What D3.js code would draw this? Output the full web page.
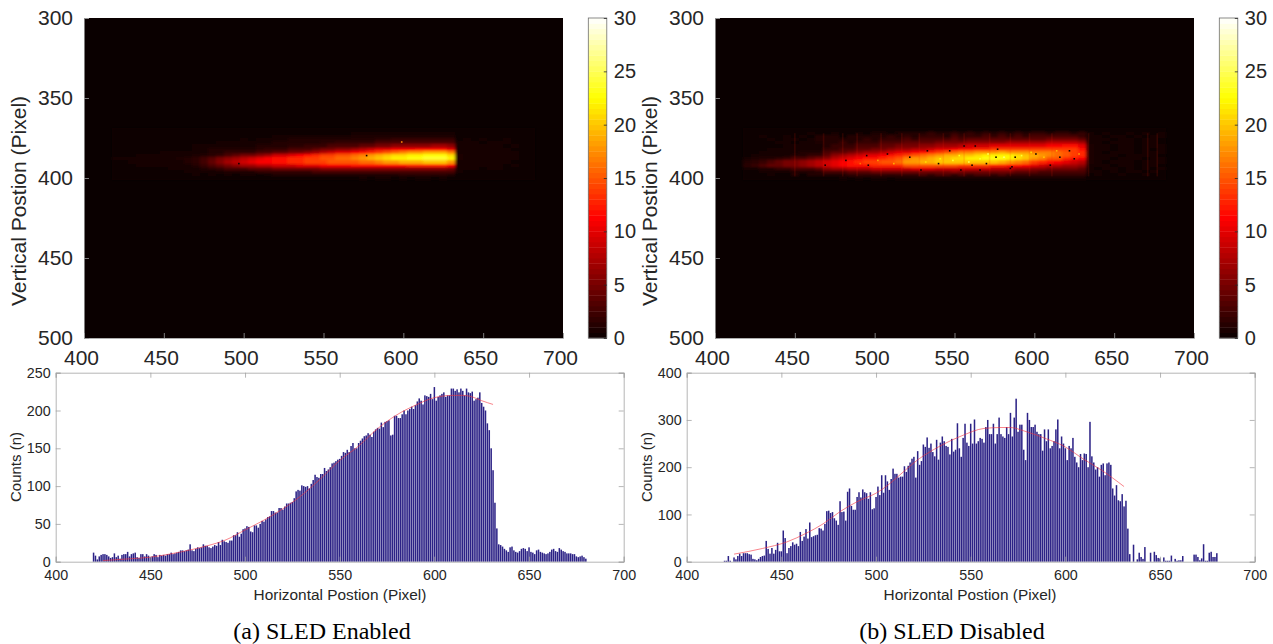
<!DOCTYPE html>
<html>
<head>
<meta charset="utf-8">
<script src="https://d3js.org/d3.v7.min.js"></script>
<style>
  html, body { margin: 0; padding: 0; background: #fff; }
  svg { display: block; }
  text { font-family: "Liberation Sans", sans-serif; fill: #262626; }
</style>
</head>
<body>
<div id="chart"></div>
<script>
// histogram bins, one value per pixel column from 420 to 680
var firstBin = 420;
var countsA = [
  12,8,3,7,9,10,10,9,7,5,
  6,11,6,8,4,9,10,10,13,7,
  10,11,12,6,5,10,10,7,10,8,
  6,7,10,9,6,9,8,9,8,10,
  10,12,10,11,12,13,15,15,14,15,
  16,23,15,14,17,19,18,19,23,21,
  21,19,18,20,22,21,26,22,29,27,
  26,25,28,28,35,35,39,33,37,43,
  44,47,46,40,39,48,48,45,50,54,
  53,56,59,60,67,67,65,65,71,71,
  69,73,77,77,78,79,84,93,95,94,
  101,100,99,100,97,103,108,115,112,111,
  116,116,124,120,122,125,130,131,133,135,
  136,140,145,144,148,145,153,157,150,150,
  157,160,163,166,167,170,168,165,172,175,
  177,176,184,178,185,186,187,167,168,193,
  193,190,190,195,200,195,200,202,205,202,
  207,212,216,213,208,220,219,218,222,215,
  231,213,218,220,222,224,218,220,220,229,
  229,226,228,224,229,226,220,229,224,223,
  225,213,215,217,224,210,205,200,183,174,
  150,121,78,44,23,22,20,17,15,13,
  19,20,15,13,12,14,17,18,17,14,
  19,13,12,10,15,16,13,12,11,10,
  11,13,16,17,14,13,18,16,14,13,
  11,11,11,10,10,7,6,7,8,6,
  4];
var countsB = [
  2,2,12,2,0,9,5,12,17,12,
  18,18,18,16,15,6,5,3,6,10,
  12,13,44,27,17,29,17,25,40,22,
  22,66,50,18,29,33,41,36,38,33,
  63,44,53,69,49,83,52,54,56,57,
  71,70,66,80,107,108,103,105,92,87,
  78,128,105,106,87,148,155,118,110,110,
  137,147,136,153,147,145,133,147,111,113,
  137,159,141,183,146,183,170,152,175,197,
  186,186,178,180,180,202,190,203,210,218,
  222,178,234,205,213,248,243,263,241,250,
  232,223,258,216,252,265,255,245,243,227,
  260,233,237,293,240,222,262,292,252,245,
  292,250,301,250,255,262,260,252,285,300,
  270,270,292,250,270,305,270,265,262,285,
  270,315,265,305,345,275,290,290,237,215,
  315,300,285,285,290,275,270,270,235,280,
  255,280,240,245,255,280,301,240,265,250,
  240,215,245,240,262,222,210,200,228,215,
  229,228,200,296,223,210,195,200,180,205,
  208,183,208,210,205,155,140,162,130,128,
  143,117,129,70,16,0,36,0,5,19,
  10,6,31,0,0,19,0,21,14,8,
  7,0,9,2,2,2,13,0,6,2,
  3,3,12,0,0,0,0,0,15,15,
  10,3,7,37,2,2,19,21,10,10,
  18];

// red fit curves: [pixel, counts]
var fitA = [[425,1.5],[440,4],[450,6],[460,10],[470,15],[480,21],[490,29],[500,42],[510,55],[520,70],[530,88],[540,110],[550,134],[560,153],[570,176],[580,194],[590,207],[600,217],[610,220],[615,220],[620,218],[625,213],[631,208]];
var fitB = [[425,16],[440,28],[453,42],[463,60],[472,80],[481,106],[490,127],[500,145],[525,224],[545,266],[557,282],[566,284],[571,284],[578,277],[590,260],[599,245],[610,216],[619,194],[631,159]];

// camera images: intensity read per 5 pixel column and per 2 pixel row
var imageCols = d3.range(420, 681, 5);
var imageRows = d3.range(370, 401, 2);
var imageA = [
  [0,0,0,0,0,0,0,0,0,0, 0,0,0,0,0,0,0,0,0,0, 0,0,0,0,0,0,0,0,0,0, 0,0,0,0,0,0,0,0,0,0, 0,0,0, 0,0,0,0,0,0,0,0,0,0],
  [0,0,.3,0,0,0,.3,0,0,.3, 0,.3,0,0,.3,0,.3,0,0,.3, .3,0,.3,.3,0,.3,.3,0,.3,.3, .5,.5,.5,.5,.5,.5,.5,.5,.5,.5, .5,.5,.5, 0,.3,0,0,.3,0,0,.3,0,0],
  [0,.3,0,.3,0,.3,0,.3,.3,0, .3,0,.3,.3,0,.3,0,.3,.3,0, .5,.5,.5,.5,.5,.5,.5,.5,.5,.5, .8,.8,.8,.8,.8,.8,.8,.8,.8,.8, .8,.8,.8, .3,0,.3,0,.3,.3,0,0,.3,0],
  [.3,0,.3,0,.3,0,.3,0,.3,.3, 0,.3,.3,0,.3,.3,.5,0,.5,.5, .5,.5,1,1,1,1,1,1,1,1, 1,1,1,1.5,1.5,2,2,2,2,2, 2,2,2, .3,.4,0,.4,.3,0,.4,.3,0,0],
  [0,.3,0,.3,.3,0,.3,.3,0,.3, .3,.3,0,.5,.5,.5,.5,.5,.5,.5, 1,1,1,1,1,1,1.5,1.5,2,2, 2,2,2,3,3,3,3,3,3,3, 3,3,3, .4,.5,.4,0,.4,.5,.4,0,.3,0],
  [.3,0,.3,.3,0,.3,.3,.3,.3,.3, .5,.5,.5,.5,.5,.5,.5,.5,1,1, 1,1,1.5,1.5,2,2,2,3,3,3, 3,4,4,5,5,6,6,6,6,6, 7,7,6, .5,.5,.4,.5,.5,.4,0,.4,.3,0],
  [0,.3,.3,0,.3,.3,.3,.3,.3,.3, .5,.5,1,1,1,1,1,1,1.5,2, 2,2,3,3,3,4,5,5,6,6, 7,8,9,10,10,11,11,11,12,12, 12,12,10, .5,.5,.5,.5,.5,.5,.4,0,.3,.3],
  [.3,.3,0,.3,.3,.3,.4,.4,.4,.4, .4,.6,1,1,2,2,2,2,3,3, 4,4,5,5,6,7,8,9,10,10, 11,12,13,14,15,16,17,18,18,19, 19,19,17, .6,.5,.5,.5,.5,.5,.5,.4,0,.3],
  [.3,.3,.3,.4,.4,.4,.4,.4,.5,.5, .8,1,1.5,2,3,4,5,5,6,7, 9,9,10,11,12,13,14,14,15,15, 16,17,18,19,20,21,21,22,22,23, 23,23,21, .8,.5,.5,.5,.5,.5,.5,.4,.3,0],
  [.5,.5,.5,.5,.5,.5,.6,.7,.8,1, 1.5,2.5,3.5,5,6,7,8,9,10,11, 12,12,13,13,14,14,15,15,16,16, 17,18,19,20,21,22,22,23,23,24, 24,24,22, .8,.5,.5,.5,.5,.5,.5,.4,0,.3],
  [.3,.3,.4,.4,.4,.5,.5,.6,.7,1, 1.5,2.5,4,5.5,7,8,9,10,11,11, 12,12,13,13,14,14,14,15,15,15, 15,16,16,17,18,18,19,19,19,20, 20,20,18, .6,.5,.5,.5,.5,.5,.4,0,.3,.3],
  [0,.3,0,.4,.4,.4,.4,.5,.5,.5, 1,2,3,4,5,6,7,7,8,8, 9,9,9,10,10,10,11,11,11,11, 12,12,12,12,12,12,12,13,13,13, 13,13,11, .5,.5,.4,.5,.4,.4,0,.4,.3,0],
  [.3,0,.3,0,.3,.3,0,.4,.4,.5, .7,1,1.5,2,3,3,3,4,4,4, 5,5,5,5,5,5,6,6,6,6, 6,6,6,6,6,6,6,6,6,6, 6,6,5, .4,.4,.4,0,.4,.4,.3,0,.3,0],
  [0,.3,0,.3,0,.3,.3,0,.3,.4, .4,.4,.6,.8,1,1,1,1,2,2, 2,2,2,2,2,3,3,3,3,3, 3,3,3,3,3,3,3,3,3,3, 3,3,3, .4,0,.3,.3,0,.3,0,.3,0,0],
  [0,0,0,.3,0,0,0,.3,0,0, .4,0,.5,0,.5,0,.5,.5,0,.5, 1,1,1,1,1,1,1,1,1,1, 1,1,1,1,1,1,1.5,1.5,1.5,1.5, 1.5,1.5,1, 0,.3,0,0,.3,0,0,0,.3,0],
  [0,0,0,0,0,0,0,0,0,0, 0,0,.3,0,0,.3,0,.3,0,.3, .3,.3,0,.3,.3,.3,.3,0,.3,.3, .3,.5,.3,.5,.5,.3,.5,.3,.5,.5, .3,.5,.3, 0,0,0,0,0,0,0,0,0,0]
];
var imageB = [
  [0,0,0,0,0,0,0,0,0,0, 0,0,0,0,0,0,0,0,0,0, 0,0,.3,0,0,.3,0,0,.3,0, .3,0,.3,0,.3,0,.3,0,.3,0, .3,.3,0, 0,0,0,0,0,0,0,0,0,0],
  [0,0,0,0,0,0,0,0,.4,0, 0,.5,0,0,.5,0,.8,.8,0,1, 1,1,1,2,1,1,2,1,2,1, 2,1,2,1,2,1,2,2,1,2, 2,1,2, .4,0,.4,0,0,.4,0,.4,0,.4],
  [0,0,.5,0,0,.5,0,.5,0,1, 1,1,0,1,1,1,1,1,2,1, 2,1,2,2,2,1,3,2,2,2, 3,2,3,2,3,2,3,3,3,3, 3,3,2, .5,.5,0,.5,.5,0,.5,0,.5,.5],
  [0,0,0,.5,0,.5,.5,0,.5,1, 1,1,1,1,1,2,1,2,2,2, 3,2,3,3,3,3,4,3,4,4, 4,4,4,4,4,4,4,4,5,5, 5,5,4, .6,.5,.5,0,.5,.5,0,.5,.5,0],
  [0,0,0,0,.5,.5,0,.6,.6,.8, 1,1,2,1,2,2,2,3,3,3, 4,4,4,4,5,5,5,5,6,6, 6,6,6,7,7,7,7,7,8,8, 8,8,7, .7,.5,0,.5,.5,.5,0,.5,.5,0],
  [0,0,.3,0,.3,.4,.4,.5,.5,.6, 1,2,2,2,3,3,3,4,4,5, 5,5,6,6,7,7,7,8,9,9, 9,10,10,10,10,10,10,10,11,11, 12,12,10, .8,.5,.5,0,.5,.5,0,.5,.5,.5],
  [0,.3,0,.4,.4,.5,.5,.5,.7,.7, 2,2,3,3,4,4,5,5,6,7, 7,8,8,9,10,10,11,12,12,13, 13,14,14,14,14,14,14,14,14,14, 14,14,12, .8,.5,.5,0,.5,.5,0,.5,0,.5],
  [0,0,.4,.4,.5,.5,.5,1,1,1, 3,4,4,5,6,7,7,8,9,10, 10,11,12,13,14,15,16,17,17,18, 18,18,19,18,18,18,17,17,17,16, 15,14,13, .8,.5,0,.5,.5,.5,0,.5,.5,.5],
  [0,.5,.5,.5,.5,.6,1,1,2,2, 4,6,7,8,9,10,10,11,12,13, 14,15,16,17,18,19,19,20,20,21, 22,22,22,22,21,20,19,18,17,16, 15,14,13, .8,.5,.5,.5,0,.5,.5,.5,.5,0],
  [.6,.8,1,1,1.5,2,3,3,4,5, 6,8,9,10,11,12,12,13,14,15, 17,18,18,19,20,20,21,21,22,22, 23,23,23,22,21,20,18,17,15,15, 13,12,11, .8,.5,.5,0,.5,.5,.5,0,.5,.5],
  [1,1.5,2,3,4,5,5,6,7,8, 9,10,11,12,13,14,14,15,15,16, 18,18,19,19,20,20,20,20,20,20, 20,20,19,18,17,16,14,13,12,11, 10,9,8, .8,.5,0,.5,.5,.5,0,.5,.5,.5],
  [1.5,2,3,4,4,5,5,6,7,8, 9,10,11,12,12,12,13,13,13,13, 15,15,15,15,15,15,15,14,14,14, 14,13,13,12,12,11,10,9,8,8, 7,7,6, .7,.5,.5,0,.5,.5,0,.5,.5,0],
  [.5,.5,1,1,2,2,3,3,3,4, 6,7,7,8,8,8,9,9,9,9, 9,10,10,10,9,9,9,9,9,9, 9,8,8,8,7,7,6,6,5,5, 5,5,4, .5,0,.5,.5,0,.5,0,.5,0,.5],
  [0,0,.5,.5,.5,.5,1,1,1,1.5, 3,3,3,4,4,4,5,5,5,5, 5,5,5,5,5,5,6,5,5,5, 5,5,5,5,4,4,4,3,3,3, 3,3,3, .5,.5,0,.5,0,.5,.5,0,.5,0],
  [0,0,0,.5,0,0,1,0,1,1, 1,1,1,2,2,2,2,2,2,2, 2,2,3,2,3,3,2,3,2,3, 3,2,3,2,2,2,2,2,2,2, 2,2,2, 0,.4,0,0,.4,0,0,.4,0,0],
  [0,0,0,0,0,0,0,0,0,0, .3,0,.5,0,.5,0,.5,.5,0,.5, .5,.5,.5,.5,.5,.5,.5,.5,.5,.5, .5,.5,.5,.5,.5,.5,.5,.5,.5,.5, .5,.5,.5, 0,0,0,0,0,0,0,0,0,0]
];

// single odd pixels and bright columns seen in the images: [pixel, row] or [pixel, row, value]
var deadPixelsA = [[577,386],[497,391]];
var hotPixelsA = [[599,377.5,17]];
var deadPixelsB = [[469,392],[482,389],[496,392],[495,386],[522,387],[540,391],[547,383],[563,380],[586,393],[601,385],[622,383],[556,380],[561,392],[577,382],[576,387],[588,387],[616,387],[625,388],[514,372],[554,395],[529,395],[566,395],[585,394],[508,385],[533,383],[570,391],[610,392]];
var hotPixelsB = [[532,390,21],[541,388,22],[549,389,24],[553,386,23],[559,390,25],[566,388,24],[571,385,25],[581,387,26],[592,386,24],[598,384,21],[606,387,20],[614,383,19],[628,385,18],[512,391,19],[502,389,18],[491,391,16]];
var streaksA = [];
var streaksB = [450,468,480,489,504,517,528,543,556,572,585,597,611,634,671,677];

// tick labels
var imageXTicks = [400,450,500,550,600,650,700];
var imageYTicks = [300,350,400,450,500];
var colorTicks = [0,5,10,15,20,25,30];
var histXTicks = [400,450,500,550,600,650,700];
var histYTicksA = [0,50,100,150,200,250];
var histYTicksB = [0,100,200,300,400];

var width = 1273, height = 644;
var svg = d3.select("#chart").append("svg")
    .attr("width", width)
    .attr("height", height);

// same stops as matlab's hot map
var hot = d3.scaleLinear()
    .domain([0, 11.25, 22.5, 30])
    .range(["#0a0000", "#ff0000", "#ffff00", "#ffffff"])
    .clamp(true);

svg.append("defs").append("filter")
    .attr("id", "soft")
    .attr("filterUnits", "userSpaceOnUse")
    .attr("x", 0).attr("y", 0).attr("width", width).attr("height", height)
  .append("feGaussianBlur")
    .attr("stdDeviation", "1.8 0.9");

function drawImage(left, image, dead, hotPix, streaks) {
  var x = d3.scaleLinear().domain([400, 700]).range([left, left + 479]);
  var y = d3.scaleLinear().domain([300, 500]).range([18, 338]);

  svg.append("rect")
      .attr("x", x(400)).attr("y", y(300))
      .attr("width", x(700) - x(400)).attr("height", y(500) - y(300))
      .attr("fill", hot(0));

  var cells = svg.append("g").attr("filter", "url(#soft)");
  image.forEach(function(row, i) {
    cells.selectAll(null)
      .data(row)
      .enter().append("rect")
        .attr("x", function(d, j) { return x(imageCols[j] - 2.5); })
        .attr("y", y(imageRows[i] - 1))
        .attr("width", x(5) - x(0))
        .attr("height", y(302) - y(300))
        .attr("shape-rendering", "crispEdges")
        .attr("fill", function(d) { return hot(d); });
  });

  svg.append("g").selectAll("rect")
    .data(streaks)
    .enter().append("rect")
      .attr("x", function(d) { return x(d - 0.5); })
      .attr("y", y(372))
      .attr("width", x(1) - x(0))
      .attr("height", y(399) - y(372))
      .attr("fill", "#ff2000")
      .attr("opacity", 0.13);

  svg.append("g").selectAll("rect")
    .data(dead)
    .enter().append("rect")
      .attr("x", function(d) { return x(d[0] - 0.5); })
      .attr("y", function(d) { return y(d[1] - 0.5); })
      .attr("width", x(1) - x(0))
      .attr("height", y(301) - y(300))
      .attr("fill", "#120000");

  svg.append("g").selectAll("rect")
    .data(hotPix)
    .enter().append("rect")
      .attr("x", function(d) { return x(d[0] - 0.5); })
      .attr("y", function(d) { return y(d[1] - 0.5); })
      .attr("width", x(1) - x(0))
      .attr("height", y(301) - y(300))
      .attr("fill", function(d) { return hot(d[2]); });

  // axes
  svg.append("g")
      .attr("transform", "translate(0," + y(500) + ")")
      .call(d3.axisBottom(x).tickValues(imageXTicks).tickSize(-5).tickPadding(12))
      .call(styleAxis, 21, "#9a9a9a")
      .selectAll("text").attr("dx", -3);
  svg.append("g")
      .attr("transform", "translate(" + x(400) + ",0)")
      .call(d3.axisLeft(y).tickValues(imageYTicks).tickSize(-5).tickPadding(11))
      .call(styleAxis, 21, "#9a9a9a");

  svg.append("text")
      .attr("transform", "translate(" + (left - 58) + ",201)rotate(-90)")
      .attr("text-anchor", "middle")
      .style("font-size", "21px")
      .text("Vertical Postion (Pixel)");

  // colorbar
  var cx = left + 504.3, cw = 18.5;
  var c = d3.scaleLinear().domain([0, 30]).range([338, 18]);
  svg.append("g").selectAll("rect")
    .data(d3.range(0, 30, 0.5))
    .enter().append("rect")
      .attr("x", cx)
      .attr("y", function(d) { return c(d + 0.5); })
      .attr("width", cw)
      .attr("height", c(0) - c(0.5) + 0.4)
      .attr("fill", function(d) { return hot(d + 0.25); });
  svg.append("rect")
      .attr("x", cx).attr("y", c(30))
      .attr("width", cw).attr("height", c(0) - c(30))
      .attr("fill", "none")
      .attr("stroke", "#6e6e6e")
      .attr("stroke-width", 0.8);
  svg.append("g")
      .attr("transform", "translate(" + (cx + cw) + ",0)")
      .call(d3.axisRight(c).tickValues(colorTicks).tickSize(-3).tickPadding(7))
      .call(styleAxis, 20, "#262626")
      .call(function(g) { g.select(".domain").remove(); });
}

function styleAxis(g, size, lineColor) {
  g.selectAll("text").style("font-size", size + "px").attr("fill", "#262626");
  g.selectAll("line").attr("stroke", lineColor).attr("stroke-width", 0.8);
  g.select(".domain").attr("stroke", lineColor).attr("stroke-width", 0.8);
}

function drawHist(left, counts, fit, yMax, yTicks, labelX) {
  var x = d3.scaleLinear().domain([400, 700]).range([left, left + 568]);
  var y = d3.scaleLinear().domain([0, yMax]).range([561.7, 372.7]);
  var gray = "#a3a3a3";

  svg.append("g").selectAll("rect")
    .data(counts)
    .enter().append("rect")
      .attr("x", function(d, i) { return x(firstBin + i - 0.4); })
      .attr("y", function(d) { return y(d); })
      .attr("width", x(0.8) - x(0))
      .attr("height", function(d) { return y(0) - y(d); })
      .attr("fill", "#2c2286");

  svg.append("path")
      .datum(fit)
      .attr("fill", "none")
      .attr("stroke", "#f4303c")
      .attr("stroke-width", 0.8)
      .attr("opacity", 0.75)
      .attr("d", d3.line()
        .curve(d3.curveMonotoneX)
        .x(function(d) { return x(d[0]); })
        .y(function(d) { return y(d[1]); }));

  // box with ticks pointing inward on all four sides
  svg.append("g")
      .attr("transform", "translate(0," + y(0) + ")")
      .call(d3.axisBottom(x).tickValues(histXTicks).tickSize(-5).tickPadding(8))
      .call(styleAxis, 14.3, gray);
  svg.append("g")
      .attr("transform", "translate(0," + y(yMax) + ")")
      .call(d3.axisTop(x).tickValues(histXTicks).tickSize(-5).tickFormat(""))
      .call(styleAxis, 14.3, gray);
  svg.append("g")
      .attr("transform", "translate(" + x(400) + ",0)")
      .call(d3.axisLeft(y).tickValues(yTicks).tickSize(-5).tickPadding(5))
      .call(styleAxis, 14.3, gray);
  svg.append("g")
      .attr("transform", "translate(" + x(700) + ",0)")
      .call(d3.axisRight(y).tickValues(yTicks).tickSize(-5).tickFormat(""))
      .call(styleAxis, 14.3, gray);

  svg.append("text")
      .attr("x", labelX)
      .attr("y", 600)
      .attr("text-anchor", "middle")
      .style("font-size", "15.4px")
      .text("Horizontal Postion (Pixel)");
  svg.append("text")
      .attr("transform", "translate(" + (left - 35) + ",467)rotate(-90)")
      .attr("text-anchor", "middle")
      .style("font-size", "15px")
      .text("Counts (n)");
}

drawImage(84, imageA, deadPixelsA, hotPixelsA, streaksA);
drawImage(715, imageB, deadPixelsB, hotPixelsB, streaksB);
drawHist(55.7, countsA, fitA, 250, histYTicksA, 340);
drawHist(686.7, countsB, fitB, 400, histYTicksB, 970);

svg.append("text")
    .attr("x", 322).attr("y", 639)
    .attr("text-anchor", "middle")
    .style("font-family", "'Liberation Serif', serif")
    .style("font-size", "24px")
    .style("fill", "#000")
    .text("(a) SLED Enabled");
svg.append("text")
    .attr("x", 952).attr("y", 639)
    .attr("text-anchor", "middle")
    .style("font-family", "'Liberation Serif', serif")
    .style("font-size", "24px")
    .style("fill", "#000")
    .text("(b) SLED Disabled");
</script>
</body>
</html>
